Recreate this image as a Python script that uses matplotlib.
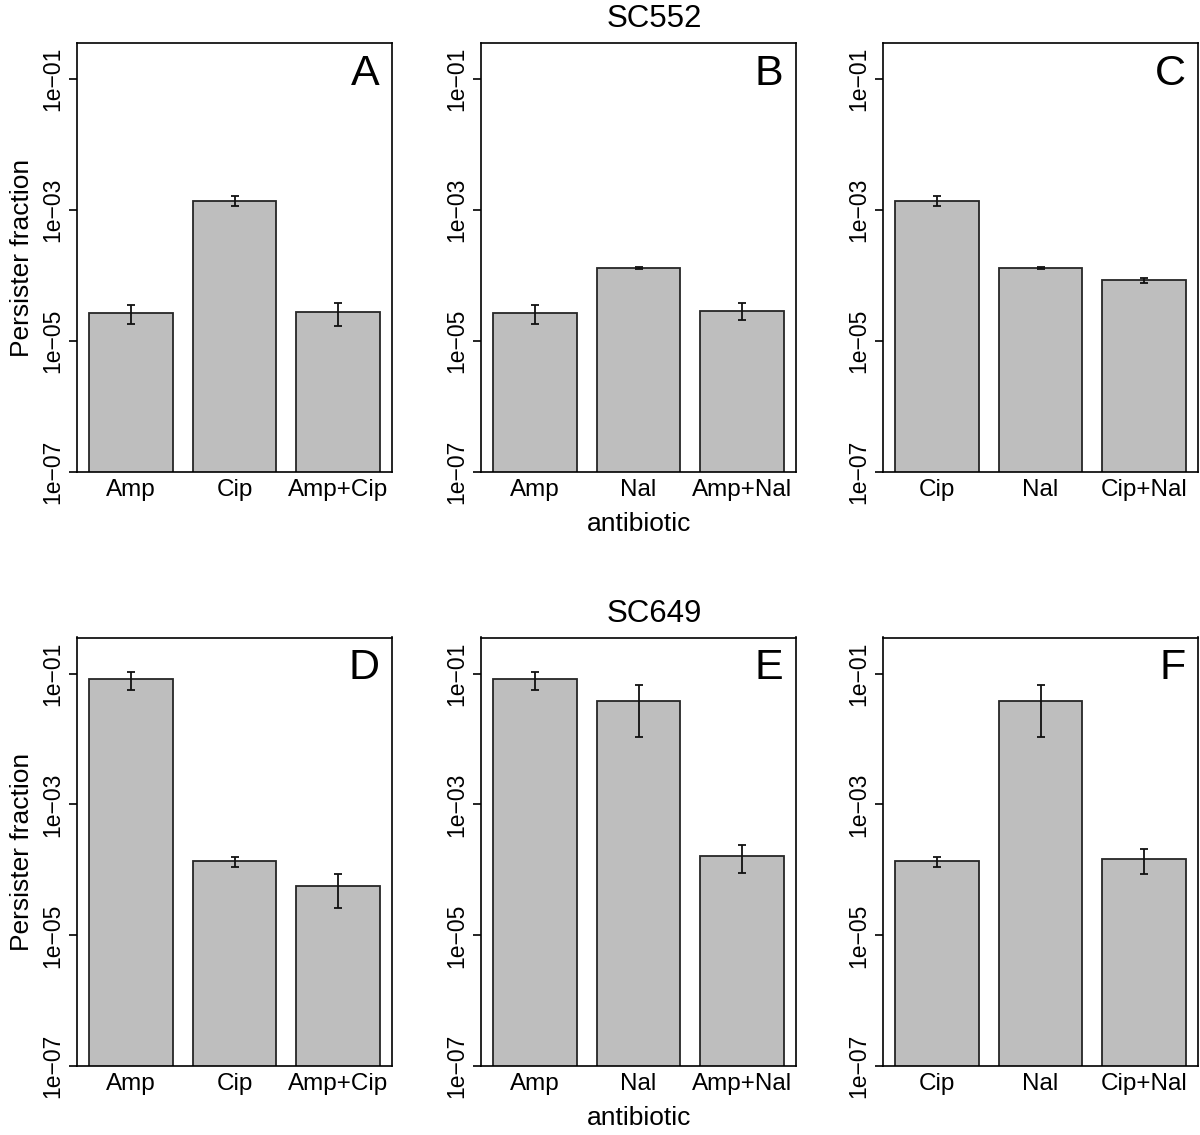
import numpy as np
import matplotlib.pyplot as plt

plt.rcParams['font.family'] = ['Liberation Sans', 'DejaVu Sans']

# Persister fraction, mean und Fehlerbalken (untere/obere Grenze)
panel_letters = ["A", "B", "C", "D", "E", "F"]
categories = [
    ["Amp", "Cip", "Amp+Cip"],
    ["Amp", "Nal", "Amp+Nal"],
    ["Cip", "Nal", "Cip+Nal"],
    ["Amp", "Cip", "Amp+Cip"],
    ["Amp", "Nal", "Amp+Nal"],
    ["Cip", "Nal", "Cip+Nal"],
]
means = [
    [2.7e-5, 1.39e-3, 2.74e-5],
    [2.7e-5, 1.30e-4, 2.9e-5],
    [1.39e-3, 1.30e-4, 8.5e-5],
    [0.081, 1.35e-4, 5.6e-5],
    [0.081, 0.0382, 1.64e-4],
    [1.35e-4, 0.0382, 1.45e-4],
]
lower = [
    [1.8e-5, 1.15e-3, 1.7e-5],
    [1.8e-5, 1.25e-4, 2.07e-5],
    [1.15e-3, 1.25e-4, 7.7e-5],
    [0.056, 1.11e-4, 2.6e-5],
    [0.056, 0.0109, 8.9e-5],
    [1.11e-4, 0.0109, 8.6e-5],
]
upper = [
    [3.6e-5, 1.65e-3, 3.8e-5],
    [3.6e-5, 1.35e-4, 3.8e-5],
    [1.65e-3, 1.35e-4, 9.2e-5],
    [0.106, 1.57e-4, 8.6e-5],
    [0.106, 0.066, 2.42e-4],
    [1.57e-4, 0.066, 2.05e-4],
]
yticks = [1e-7, 1e-5, 1e-3, 1e-1]
ytick_labels = ["1e\u221207", "1e\u221205", "1e\u221203", "1e\u221201"]
strains = ["SC552", "SC649"]

W, H = 1200, 1135
fig = plt.figure(figsize=(W / 100, H / 100), dpi=100)

lefts = [77, 481, 883]
row_top = [43, 637.5]
row_bot = [472, 1066.3]

for i in range(6):
    r, c = divmod(i, 3)
    ax = fig.add_axes([lefts[c] / W, 1 - row_bot[r] / H, 315 / W, (row_bot[r] - row_top[r]) / H])
    x = np.arange(3)
    m = np.array(means[i])
    lo = np.array(lower[i])
    hi = np.array(upper[i])
    ax.bar(x, m, width=0.81, color="#bebebe", edgecolor="#262626", linewidth=1.3, zorder=2)
    ax.errorbar(x, m, yerr=[m - lo, hi - m], fmt="none", ecolor="#111111",
                elinewidth=1.3, capsize=3, capthick=1.3, zorder=3)
    ax.set_yscale("log")
    ax.set_ylim(1e-7, 10 ** -0.45)
    ax.set_xlim(-0.52, 2.52)
    ax.set_xticks(x)
    ax.set_xticklabels(categories[i], fontsize=17.5)
    ax.tick_params(axis="x", length=0, pad=5)
    ax.set_yticks(yticks)
    ax.set_yticklabels(ytick_labels, fontsize=16.5, rotation=90, va="center")
    ax.minorticks_off()
    ax.tick_params(axis="y", length=6, width=1.2, pad=3, direction="out")
    for s in ax.spines.values():
        s.set_linewidth(1.2)
    ax.text(0.96, 0.975, panel_letters[i], transform=ax.transAxes, ha="right", va="top", fontsize=31)

# Achsenbeschriftungen und Titel
for r in range(2):
    mid = 1 - (row_top[r] + row_bot[r]) / 2 / H
    fig.text(22 / W, mid, "Persister fraction", rotation=90, ha="center", va="center", fontsize=19)
    fig.text(639 / W, 1 - (row_bot[r] + 52) / H, "antibiotic", ha="center", va="center", fontsize=19)
    fig.text(654 / W, 1 - (row_top[r] - 24) / H, strains[r], ha="center", va="center", fontsize=22.5)

plt.savefig("out.png", dpi=100)
